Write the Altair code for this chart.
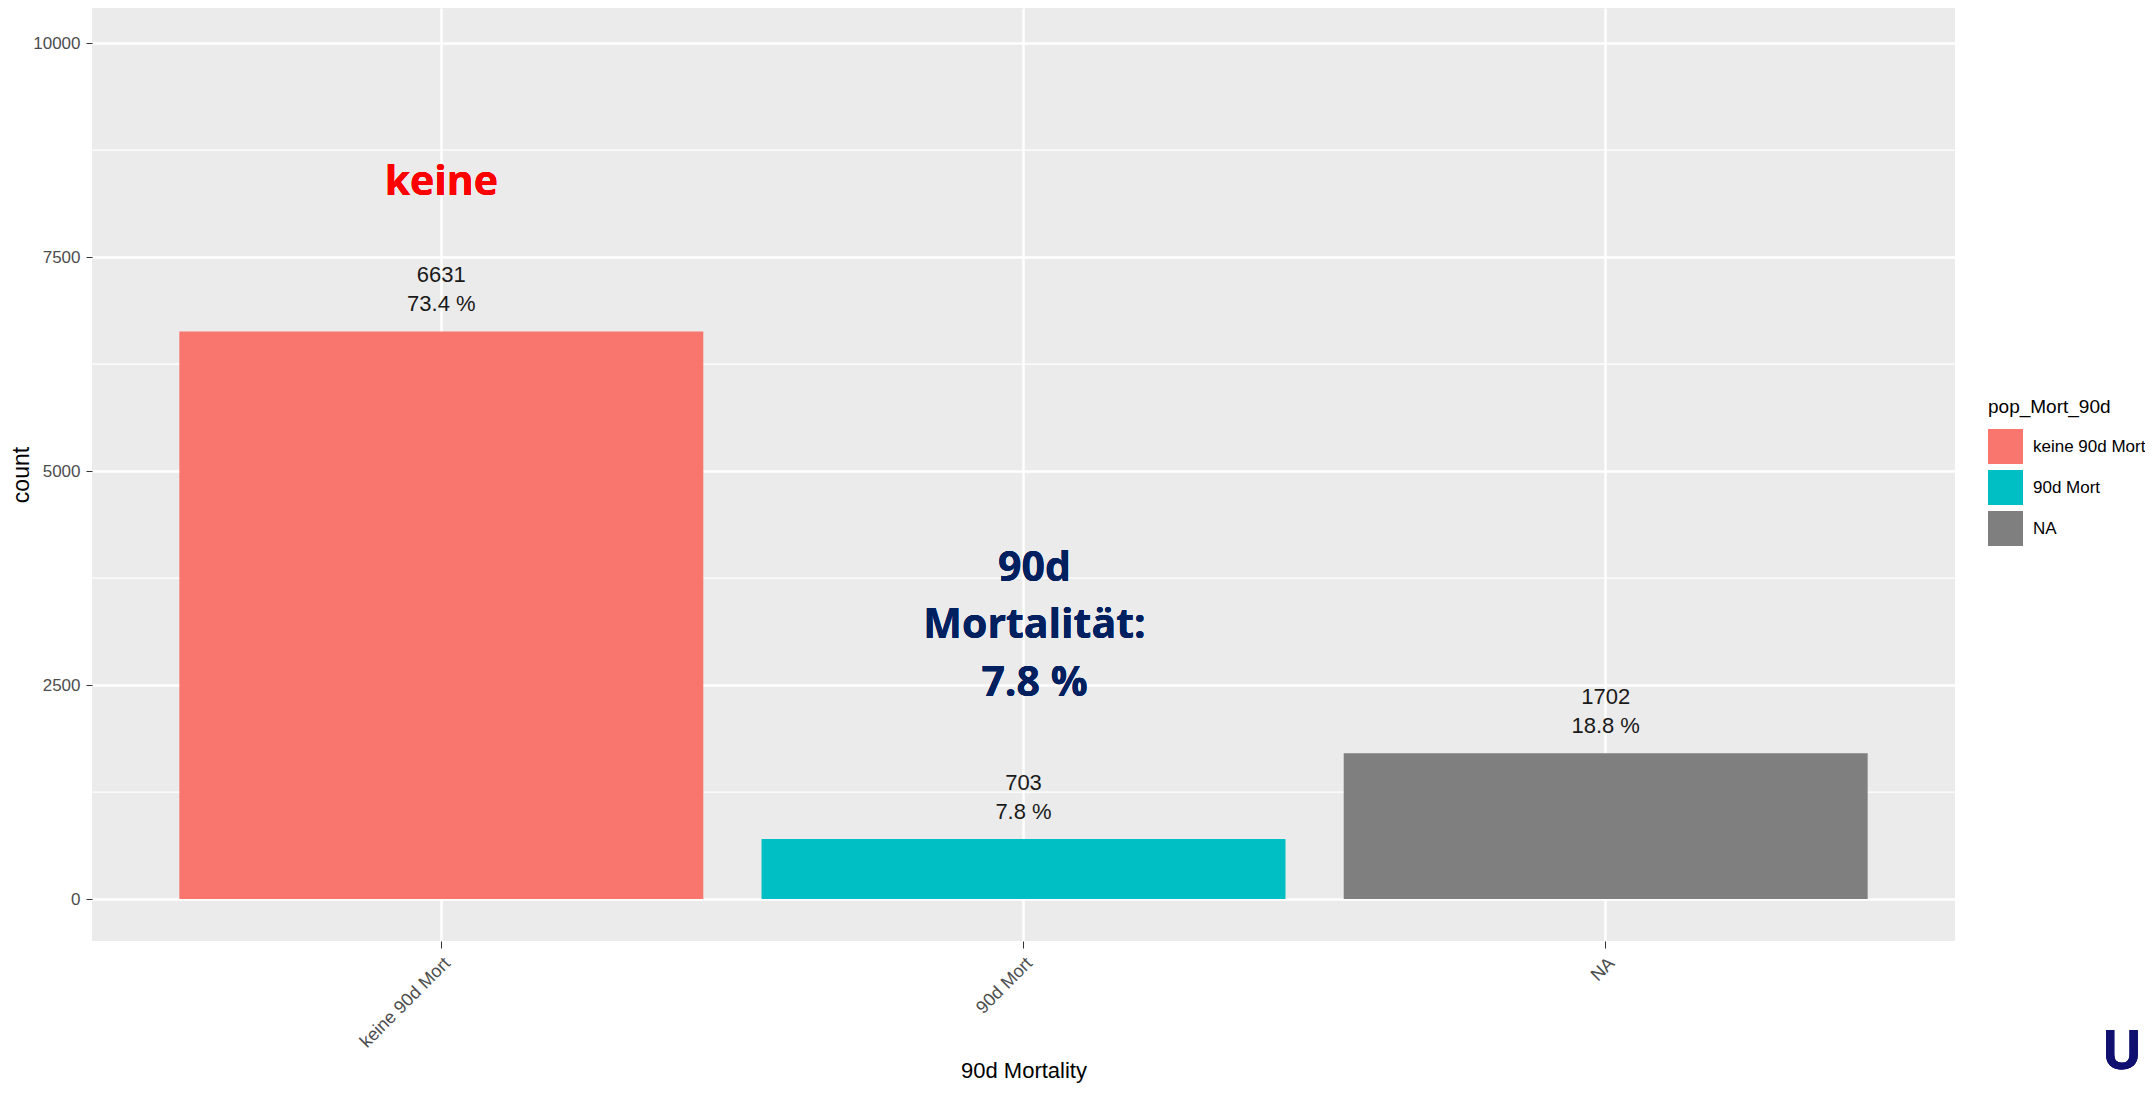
import altair as alt
import pandas as pd

# ---- data ----
categories = ["keine 90d Mort", "90d Mort", "NA"]
counts = [6631, 703, 1702]
percent_labels = ["73.4 %", "7.8 %", "18.8 %"]
bar_colors = ["#F8766D", "#00BFC4", "#7F7F7F"]
y_major_ticks = [0, 2500, 5000, 7500, 10000]
y_minor_ticks = [1250, 3750, 6250, 8750]
y_domain = [-490, 10410]

annot_keine = "keine"
annot_mort_lines = ["90d", "Mortalität:", "7.8 %"]
annot_keine_anchor = 8368     # y value (count units) of the red note
annot_mort_anchor = 3193      # y value (count units) of the navy note's middle line

bars_df = pd.DataFrame({
    "pop_Mort_90d": categories,
    "count": counts,
    "label": [f"{c}\n{p}" for c, p in zip(counts, percent_labels)],
})
minor_df = pd.DataFrame({"count": y_minor_ticks})

FONT = "Liberation Sans"

x_enc = alt.X(
    "pop_Mort_90d:N",
    sort=categories,
    scale=alt.Scale(domain=categories, paddingInner=0.1, paddingOuter=0.15),
    axis=alt.Axis(
        title="90d Mortality",
        bandPosition=0.5,
        grid=True,
        gridColor="white",
        gridWidth=2.5,
        labelAngle=-45,
        labelAlign="right",
        labelBaseline="top",
        labelFontSize=18,
        labelPadding=6,
        labelColor="#4D4D4D",
        tickSize=7,
        tickColor="#333333",
        titleFontSize=22,
        titleY=141,
        titleBaseline="bottom",
        titleColor="black",
        titleFontWeight="normal",
    ),
)
y_enc = alt.Y(
    "count:Q",
    scale=alt.Scale(domain=y_domain, nice=False, zero=False),
    axis=alt.Axis(
        title="count",
        values=y_major_ticks,
        format="d",
        grid=True,
        gridColor="white",
        gridWidth=2.5,
        labelFontSize=17,
        labelColor="#4D4D4D",
        labelPadding=6,
        tickSize=6,
        tickColor="#333333",
        titleFontSize=23,
        titleX=-71,
        titleBaseline="middle",
        titleColor="black",
        titleFontWeight="normal",
    ),
)

minor = alt.Chart(minor_df).mark_rule(color="white", strokeWidth=1.3).encode(y=y_enc)

bars = alt.Chart(bars_df).mark_bar().encode(
    x=x_enc,
    y=y_enc,
    color=alt.Color(
        "pop_Mort_90d:N",
        scale=alt.Scale(domain=categories, range=bar_colors),
        legend=alt.Legend(
            title="pop_Mort_90d",
            orient="none",
            legendX=1896,
            legendY=390,
            padding=0,
            titleFontSize=19,
            titleFontWeight="normal",
            titleColor="black",
            titlePadding=12,
            labelFontSize=17,
            labelColor="black",
            labelOffset=10,
            symbolType="square",
            symbolSize=1225,
            symbolStrokeWidth=0,
            symbolOpacity=1,
            rowPadding=6,
        ),
    ),
)

# first line is anchored at y, following lines go below it
bar_labels = alt.Chart(bars_df).mark_text(
    baseline="bottom", dy=-44, lineBreak="\n", lineHeight=29,
    fontSize=22, color="#1A1A1A", font=FONT,
).encode(x=x_enc, y=y_enc, text=alt.Text("label:N"))

note_keine = alt.Chart(bars_df).mark_text(
    text=annot_keine, font="Open Sans", fontWeight="bold", fontSize=41,
    color="#FF0000", baseline="middle",
).encode(x=alt.datum(categories[0]), y=alt.datum(annot_keine_anchor))

note_mort = alt.Chart(bars_df).mark_text(
    text=annot_mort_lines, font="Open Sans", fontWeight="bold", fontSize=41,
    color="#002060", baseline="middle", lineHeight=57.5, dx=11, dy=-57,
).encode(x=alt.datum(categories[1]), y=alt.datum(annot_mort_anchor))

logo = alt.Chart(bars_df).mark_text(
    text="U", font="Open Sans", fontWeight="bold", fontSize=54,
    color="#101070", baseline="top", align="center",
).encode(x=alt.value(2030), y=alt.value(1018))

chart = (
    alt.layer(minor, bars, bar_labels, note_keine, note_mort, logo)
    .properties(
        width=1863,
        height=933,
        autosize=alt.AutoSizeParams(type="none"),
        padding={"left": 84, "top": 0, "right": 190, "bottom": 143},
        background="white",
    )
    .configure_view(fill="#EBEBEB", strokeWidth=0)
    .configure_axis(domain=False, labelFont=FONT, titleFont=FONT)
    .configure_legend(labelFont=FONT, titleFont=FONT)
)

chart.save("out.html", embed_options={"renderer": "svg", "actions": False})
